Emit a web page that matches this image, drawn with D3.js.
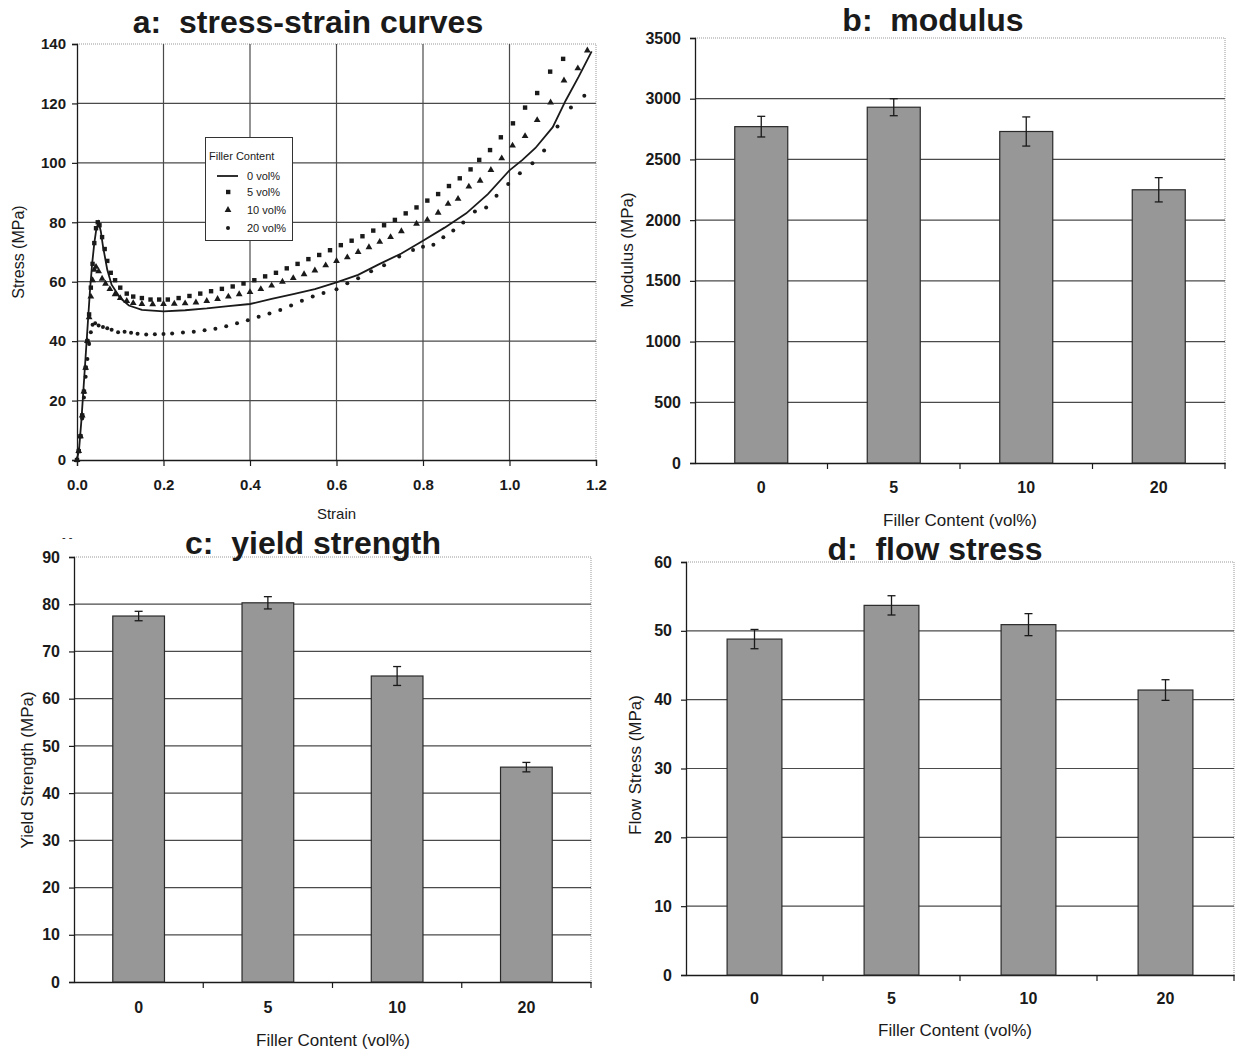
<!DOCTYPE html>
<html>
<head>
<meta charset="utf-8">
<script src="https://cdn.jsdelivr.net/npm/d3@7"></script>
<style>
  body { margin: 0; background: #fff; }
  text { font-family: "Liberation Sans", Arial, sans-serif; fill: #1a1a1a; }
  .title { white-space: pre; }
</style>
</head>
<body>
<svg id="fig" width="1236" height="1053"></svg>
<script>
// ---- data ----
const fillerLevels = ["0", "5", "10", "20"]

const modulus = [2770, 2930, 2730, 2250]
const modulusErr = [85, 70, 120, 100]

const yieldStrength = [77.5, 80.3, 64.8, 45.5]
const yieldErr = [1.0, 1.3, 2.0, 1.0]

const flowStress = [48.8, 53.7, 50.9, 41.4]
const flowErr = [1.4, 1.4, 1.6, 1.5]

const strainTicks = [0, 0.2, 0.4, 0.6, 0.8, 1.0, 1.2]
const stressTicks = [0, 20, 40, 60, 80, 100, 120, 140]

// [strain, stress MPa]
const curve0 = [[0,0],[0.005,4],[0.01,13],[0.015,24],[0.02,35],[0.025,46],[0.03,57],[0.035,66],[0.04,73],
  [0.045,78],[0.05,80],[0.055,77],[0.06,72],[0.07,64],[0.08,59],[0.1,54.5],[0.12,52],[0.15,50.5],[0.2,50],
  [0.25,50.4],[0.3,51],[0.35,51.8],[0.4,52.5],[0.45,54.2],[0.5,55.8],[0.55,57.5],[0.6,59.8],[0.65,62.3],
  [0.7,66],[0.75,69.5],[0.8,73.8],[0.85,78.2],[0.9,83],[0.95,89.5],[1.0,97.5],[1.03,101],[1.06,105],
  [1.1,112],[1.13,121],[1.16,129],[1.19,137.5]]

const curve5 = [[0,0],[0.004,3],[0.008,8],[0.012,15],[0.016,23],[0.02,31],[0.024,40],[0.028,49],[0.032,58],
  [0.036,66],[0.04,73],[0.044,78],[0.048,80],[0.052,79],[0.058,75],[0.064,71],[0.07,67],[0.078,63],
  [0.088,60.5],[0.1,58],[0.115,56],[0.13,55],[0.15,54.5],[0.17,54],[0.19,54],[0.21,54],[0.235,54.5],
  [0.26,55.2],[0.285,56],[0.31,56.8],[0.335,57.6],[0.36,58.4],[0.385,59.4],[0.41,60.5],[0.435,61.8],
  [0.46,63],[0.485,64.5],[0.51,66],[0.535,67.6],[0.56,69],[0.585,70.6],[0.61,72.3],[0.635,73.8],
  [0.66,75.3],[0.685,77.2],[0.71,79],[0.735,80.8],[0.76,83],[0.785,85],[0.81,87.3],[0.835,89.5],
  [0.86,92.2],[0.885,94.8],[0.91,97.8],[0.93,101],[0.955,104.3],[0.98,108.6],[1.008,113.3],
  [1.036,118.6],[1.064,123.5],[1.094,130.7],[1.124,135]]

const curve10 = [[0,0],[0.004,3],[0.008,8],[0.012,15],[0.016,23],[0.02,31],[0.024,40],[0.028,48],[0.032,55],
  [0.036,60.5],[0.04,64],[0.044,65],[0.05,63.5],[0.058,61],[0.066,59.3],[0.076,57.5],[0.088,55.8],
  [0.1,54.5],[0.115,53.5],[0.13,52.8],[0.15,52.5],[0.175,52.4],[0.2,52.5],[0.225,52.6],[0.25,52.7],
  [0.275,53],[0.3,53.5],[0.325,54.2],[0.35,55],[0.375,55.8],[0.4,56.5],[0.425,57.5],[0.45,58.7],
  [0.475,60],[0.5,61.2],[0.525,62.5],[0.55,63.8],[0.575,65.5],[0.6,67],[0.625,68.2],[0.65,70],
  [0.675,71.6],[0.7,73.4],[0.725,75],[0.75,77],[0.785,79.5],[0.81,80.8],[0.835,83.2],[0.858,86.2],
  [0.881,87.9],[0.906,92],[0.932,94],[0.957,97.6],[0.982,101.5],[1.007,105.8],[1.036,109],
  [1.064,114.4],[1.095,120.3],[1.126,127.7],[1.158,131.8],[1.18,137.8]]

const curve20 = [[0,0],[0.004,3],[0.008,8],[0.012,14],[0.016,21],[0.02,28],[0.024,34],[0.028,39],[0.032,43],
  [0.036,45.5],[0.042,46],[0.05,45.3],[0.06,44.8],[0.07,44.3],[0.08,43.8],[0.095,43],[0.11,43.2],
  [0.125,42.8],[0.14,42.5],[0.16,42.2],[0.18,42.3],[0.2,42.4],[0.22,42.6],[0.245,42.9],[0.27,43.2],
  [0.295,43.7],[0.32,44.2],[0.345,45],[0.37,46],[0.395,47],[0.42,48.2],[0.445,49.3],[0.47,50.5],
  [0.495,52],[0.52,53.6],[0.545,55],[0.57,56.2],[0.6,57.5],[0.625,59.5],[0.65,61.2],[0.68,63.5],
  [0.71,65.5],[0.745,68.5],[0.777,70.7],[0.8,71.8],[0.824,72.4],[0.847,75],[0.87,77.2],[0.893,79.9],
  [0.92,83.6],[0.946,85],[0.97,88.9],[0.997,92.9],[1.024,96.5],[1.053,99.9],[1.08,104.2],
  [1.111,112.2],[1.142,118.6],[1.173,122.6]]

const legendLabels = ["0 vol%", "5 vol%", "10 vol%", "20 vol%"]

const ink = "#1a1a1a"
const gridColor = "#4a4a4a"
const barFill = "#979797"

const svg = d3.select("#fig")


function styleAxis(sel) {
  sel.select(".domain").attr("stroke", ink).attr("stroke-width", 1.3)
  sel.selectAll(".tick line").attr("stroke", ink).attr("stroke-width", 1.2)
  sel.selectAll(".tick text")
    .attr("fill", ink)
    .style("font-family", '"Liberation Sans", Arial, sans-serif')
}


/**
 * panel a : stress strain curves
 */
function buildStressStrain(cfg) {
  const g = svg.append("g")
  const x = d3.scaleLinear().domain([0, 1.2]).range([cfg.left, cfg.right])
  const y = d3.scaleLinear().domain([0, 140]).range([cfg.bottom, cfg.top])

  // plot border (dotted, light)
  g.append("path")
    .attr("d", `M${cfg.left},${cfg.top}H${cfg.right}V${cfg.bottom}`)
    .attr("fill", "none").attr("stroke", "#999").attr("stroke-dasharray", "1,1")

  g.append("g").selectAll("line")
    .data(stressTicks.filter(d => d > 0 && d < 140))
    .enter().append("line")
    .attr("x1", cfg.left).attr("x2", cfg.right)
    .attr("y1", d => y(d)).attr("y2", d => y(d))
    .attr("stroke", gridColor).attr("stroke-width", 1.2)

  g.append("g").selectAll("line")
    .data(strainTicks.filter(d => d > 0 && d < 1.2))
    .enter().append("line")
    .attr("y1", cfg.top).attr("y2", cfg.bottom)
    .attr("x1", d => x(d)).attr("x2", d => x(d))
    .attr("stroke", gridColor).attr("stroke-width", 1.2)

  g.append("g")
    .attr("transform", `translate(${cfg.left},0)`)
    .call(d3.axisLeft(y).tickValues(stressTicks).tickSize(5).tickPadding(6).tickFormat(d3.format("d")))
    .call(styleAxis)
    .selectAll(".tick text").attr("font-size", 15).attr("font-weight", "bold")

  g.append("g")
    .attr("transform", `translate(0,${cfg.bottom})`)
    .call(d3.axisBottom(x).tickValues(strainTicks).tickSize(6).tickPadding(13).tickFormat(d3.format(".1f")))
    .call(styleAxis)
    .selectAll(".tick text").attr("font-size", 15).attr("font-weight", "bold")

  // curves
  const line = d3.line().x(d => x(d[0])).y(d => y(d[1]))
  g.append("path").datum(curve0)
    .attr("d", line).attr("fill", "none").attr("stroke", ink).attr("stroke-width", 1.8)

  g.append("g").selectAll("rect").data(curve5).enter().append("rect")
    .attr("x", d => x(d[0]) - 2.2).attr("y", d => y(d[1]) - 2.2)
    .attr("width", 4.4).attr("height", 4.4).attr("fill", ink)

  const tri = d3.symbol().type(d3.symbolTriangle).size(20)
  g.append("g").selectAll("path").data(curve10).enter().append("path")
    .attr("d", tri).attr("transform", d => `translate(${x(d[0])},${y(d[1])})`).attr("fill", ink)

  g.append("g").selectAll("circle").data(curve20).enter().append("circle")
    .attr("cx", d => x(d[0])).attr("cy", d => y(d[1])).attr("r", 2).attr("fill", ink)

  // legend
  const lg = g.append("g")
  lg.append("rect").attr("x", 205.5).attr("y", 137.5).attr("width", 87).attr("height", 103)
    .attr("fill", "#fff").attr("stroke", "#333").attr("stroke-width", 1)
  lg.append("text").attr("x", 209).attr("y", 160).attr("font-size", 11).text("Filler Content")
  const rowY = [176, 192, 210, 228]
  lg.append("line").attr("x1", 217).attr("x2", 238).attr("y1", rowY[0]).attr("y2", rowY[0])
    .attr("stroke", ink).attr("stroke-width", 1.8)
  lg.append("rect").attr("x", 226).attr("y", rowY[1] - 2.2).attr("width", 4.4).attr("height", 4.4).attr("fill", ink)
  lg.append("path").attr("d", tri).attr("transform", `translate(228,${rowY[2]})`).attr("fill", ink)
  lg.append("circle").attr("cx", 228).attr("cy", rowY[3]).attr("r", 2).attr("fill", ink)
  lg.selectAll(".lab").data(legendLabels).enter().append("text")
    .attr("class", "lab")
    .attr("x", 247).attr("y", (d, i) => rowY[i] + 4)
    .attr("font-size", 11).text(d => d)

  g.append("text").attr("class", "title").attr("x", cfg.titleX).attr("y", cfg.titleY)
    .attr("text-anchor", "middle").attr("font-size", 32).attr("font-weight", "bold").text(cfg.title)
  g.append("text").attr("x", (cfg.left + cfg.right) / 2).attr("y", cfg.bottom + 59)
    .attr("text-anchor", "middle").attr("font-size", 15).text("Strain")
  g.append("text")
    .attr("transform", `translate(24,${(cfg.top + cfg.bottom) / 2}) rotate(-90)`)
    .attr("text-anchor", "middle").attr("font-size", 16).text("Stress (MPa)")
}


/**
 * bar panels b, c, d
 */
function buildBarPanel(cfg) {
  const g = svg.append("g")
  const x = d3.scaleBand().domain(fillerLevels).range([cfg.left, cfg.right])
  const y = d3.scaleLinear().domain([0, cfg.yMax]).range([cfg.bottom, cfg.top])
  const ticks = d3.range(0, cfg.yMax + cfg.step / 2, cfg.step)

  g.append("path")
    .attr("d", `M${cfg.left},${cfg.top}H${cfg.right}V${cfg.bottom}`)
    .attr("fill", "none").attr("stroke", "#999").attr("stroke-dasharray", "1,1")

  g.append("g").selectAll("line")
    .data(ticks.filter(d => d > 0 && d < cfg.yMax))
    .enter().append("line")
    .attr("x1", cfg.left).attr("x2", cfg.right)
    .attr("y1", d => y(d)).attr("y2", d => y(d))
    .attr("stroke", gridColor).attr("stroke-width", 1.2)

  g.append("g")
    .attr("transform", `translate(${cfg.left},0)`)
    .call(d3.axisLeft(y).tickValues(ticks).tickSize(5).tickPadding(9).tickFormat(d3.format("d")))
    .call(styleAxis)
    .selectAll(".tick text").attr("font-size", 16).attr("font-weight", "bold")

  // category axis: labels at centres, ticks at the band edges
  const xa = g.append("g")
    .attr("transform", `translate(0,${cfg.bottom})`)
    .call(d3.axisBottom(x).tickSize(0).tickPadding(cfg.labelPad))
    .call(styleAxis)
  xa.selectAll(".tick text").attr("font-size", 16).attr("font-weight", "bold")
  xa.selectAll(".edge").data(fillerLevels.slice(1).map(d => x(d)).concat([cfg.right]))
    .enter().append("line").attr("class", "edge")
    .attr("x1", d => d).attr("x2", d => d).attr("y1", 0).attr("y2", 6)
    .attr("stroke", ink).attr("stroke-width", 1.2)

  const bw = x.bandwidth() / 2.5
  g.append("g").selectAll("rect").data(cfg.values).enter().append("rect")
    .attr("x", (d, i) => x(fillerLevels[i]) + (x.bandwidth() - bw) / 2)
    .attr("y", d => y(d))
    .attr("width", bw)
    .attr("height", d => y(0) - y(d))
    .attr("fill", barFill)
    .attr("stroke", "#2a2a2a").attr("stroke-width", 1.2)

  const eb = g.append("g").attr("stroke", ink).attr("stroke-width", 1.3)
  cfg.values.forEach(function (v, i) {
    const cx = x(fillerLevels[i]) + x.bandwidth() / 2
    const e = cfg.errors[i]
    eb.append("line").attr("x1", cx).attr("x2", cx).attr("y1", y(v + e)).attr("y2", y(v - e))
    eb.append("line").attr("x1", cx - 4).attr("x2", cx + 4).attr("y1", y(v + e)).attr("y2", y(v + e))
    eb.append("line").attr("x1", cx - 4).attr("x2", cx + 4).attr("y1", y(v - e)).attr("y2", y(v - e))
  })

  g.append("text").attr("class", "title").attr("x", cfg.titleX).attr("y", cfg.titleY)
    .attr("text-anchor", "middle").attr("font-size", 32).attr("font-weight", "bold").text(cfg.title)
  g.append("text").attr("x", cfg.xLabelX).attr("y", cfg.xLabelY)
    .attr("text-anchor", "middle").attr("font-size", 17).text("Filler Content (vol%)")
  g.append("text")
    .attr("transform", `translate(${cfg.yLabelX},${cfg.yLabelY}) rotate(-90)`)
    .attr("text-anchor", "middle").attr("font-size", 17).text(cfg.yLabel)
}


buildStressStrain({left: 77, right: 596, top: 44, bottom: 460,
  title: "a:  stress-strain curves", titleX: 308, titleY: 33})

buildBarPanel({left: 695, right: 1225, top: 38, bottom: 463, yMax: 3500, step: 500,
  values: modulus, errors: modulusErr, labelPad: 19,
  title: "b:  modulus", titleX: 933, titleY: 31,
  xLabelX: 960, xLabelY: 526, yLabel: "Modulus (MPa)", yLabelX: 633, yLabelY: 250})

buildBarPanel({left: 74, right: 591, top: 557, bottom: 982, yMax: 90, step: 10,
  values: yieldStrength, errors: yieldErr, labelPad: 20,
  title: "c:  yield strength", titleX: 313, titleY: 554,
  xLabelX: 333, xLabelY: 1046, yLabel: "Yield Strength (MPa)", yLabelX: 33, yLabelY: 770})

buildBarPanel({left: 686, right: 1234, top: 562, bottom: 975, yMax: 60, step: 10,
  values: flowStress, errors: flowErr, labelPad: 18,
  title: "d:  flow stress", titleX: 935, titleY: 560,
  xLabelX: 955, xLabelY: 1036, yLabel: "Flow Stress (MPa)", yLabelX: 641, yLabelY: 765})

// stray scan mark above panel c
svg.append("text").attr("x", 62).attr("y", 541).attr("font-size", 11).attr("fill", "#666").text("- -")
</script>
</body>
</html>
